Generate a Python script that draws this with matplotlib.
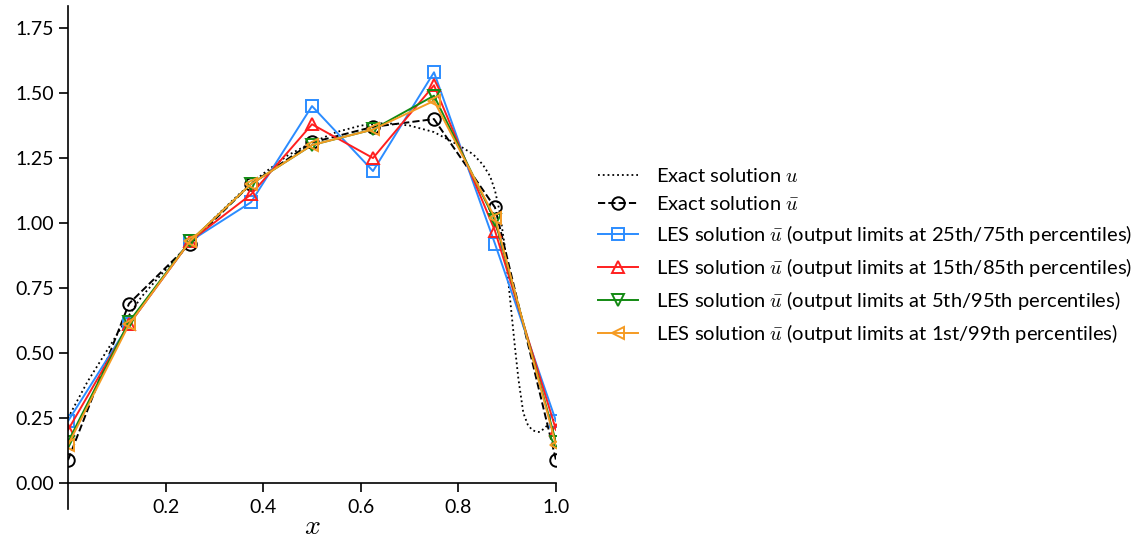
import numpy as np
import matplotlib
matplotlib.use("Agg")
import matplotlib.pyplot as plt

plt.rcParams["font.family"] = ["Lato", "DejaVu Sans"]
plt.rcParams["mathtext.fontset"] = "cm"
plt.rcParams["font.size"] = 14

# grid points of the coarse solution
x_grid = [0.0, 0.125, 0.25, 0.375, 0.5, 0.625, 0.75, 0.875, 1.0]

# exact filtered solution
u_bar_exact = [0.088, 0.69, 0.92, 1.15, 1.31, 1.37, 1.40, 1.06, 0.088]

# LES solutions for different output limits
les_25_75 = [0.238, 0.61, 0.93, 1.08, 1.45, 1.20, 1.58, 0.92, 0.238]
les_15_85 = [0.204, 0.61, 0.93, 1.11, 1.38, 1.25, 1.53, 0.97, 0.204]
les_5_95 = [0.158, 0.62, 0.93, 1.15, 1.30, 1.36, 1.49, 1.01, 0.158]
les_1_99 = [0.146, 0.61, 0.93, 1.15, 1.30, 1.36, 1.47, 1.02, 0.146]

# exact (unfiltered) solution
u_x = [0.0, 0.02, 0.04, 0.07, 0.1, 0.125, 0.15, 0.19, 0.22, 0.25, 0.3, 0.35,
       0.4, 0.45, 0.5, 0.55, 0.6, 0.65, 0.7, 0.75, 0.8, 0.83, 0.85, 0.865,
       0.875, 0.885, 0.895, 0.902, 0.909, 0.916, 0.923, 0.933, 0.942, 0.951,
       0.96, 0.967, 0.977, 0.988, 1.0]
u_y = [0.25, 0.32, 0.39, 0.48, 0.57, 0.645, 0.715, 0.80, 0.86, 0.92, 1.02, 1.11,
       1.19, 1.26, 1.31, 1.35, 1.375, 1.385, 1.375, 1.35, 1.30, 1.265, 1.225, 1.18,
       1.125, 1.04, 0.91, 0.78, 0.65, 0.52, 0.40, 0.27, 0.225, 0.204,
       0.197, 0.196, 0.212, 0.232, 0.25]

fig = plt.figure(figsize=(11.34, 5.5), dpi=100)
ax = fig.add_axes([68 / 1134, 41 / 550, 488 / 1134, 503 / 550])

ax.plot(u_x, u_y, ":", color="black", lw=1.3, label="Exact solution $u$")
ax.plot(x_grid, u_bar_exact, "--o", color="black", lw=1.4, ms=9, mfc="none",
        mew=1.4, label=r"Exact solution $\bar{u}$")

les = [
    (les_25_75, "s", "#2b8cff", "25th/75th"),
    (les_15_85, "^", "#ff1f1f", "15th/85th"),
    (les_5_95, "v", "#138a13", "5th/95th"),
    (les_1_99, "<", "#f59b23", "1st/99th"),
]
for vals, mk, col, pct in les:
    ax.plot(x_grid, vals, "-", marker=mk, color=col, lw=1.4, ms=9, mfc="none",
            mew=1.4,
            label=r"LES solution $\bar{u}$ (output limits at %s percentiles)" % pct)

ax.set_xlim(0, 1)
ax.set_ylim(-0.1, 1.835)
ax.set_xticks([0.2, 0.4, 0.6, 0.8, 1.0])
ax.set_yticks(np.arange(0, 1.76, 0.25))
ax.yaxis.set_major_formatter(matplotlib.ticker.FormatStrFormatter("%.2f"))

ax.spines["top"].set_visible(False)
ax.spines["right"].set_visible(False)
ax.spines["bottom"].set_position(("data", 0))
for s in ("left", "bottom"):
    ax.spines[s].set_linewidth(1.2)
ax.tick_params(direction="out", length=6.5, width=1.2, labelsize=14)
ax.tick_params(axis="x", pad=5)

ax.set_xlabel("$x$", fontsize=20, labelpad=-2)

fig.legend(loc="center left", bbox_to_anchor=(580 / 1134, 1 - 256 / 550),
           frameon=False, fontsize=14.5, handlelength=2.0, handletextpad=0.85,
           labelspacing=0.5)

fig.savefig("out.png", dpi=100)
